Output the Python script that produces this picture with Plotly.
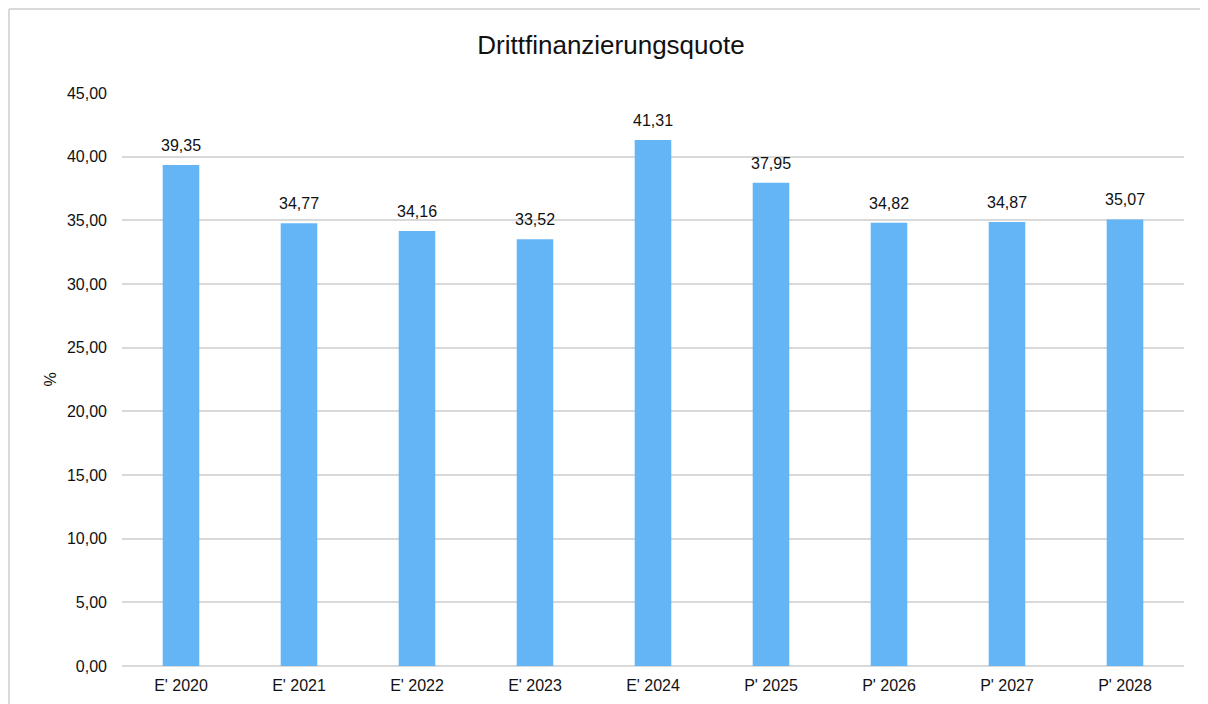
import plotly.graph_objects as go

categories = ["E' 2020", "E' 2021", "E' 2022", "E' 2023", "E' 2024",
              "P' 2025", "P' 2026", "P' 2027", "P' 2028"]
values = [39.35, 34.77, 34.16, 33.52, 41.31, 37.95, 34.82, 34.87, 35.07]
y_ticks = [0, 5, 10, 15, 20, 25, 30, 35, 40, 45]

# page has an 8px body margin
W, H = 1200, 696
L, R, T, B = 114, 24, 85, 38
pw, ph = W - L - R, H - T - B
FONT = "Liberation Sans, Arial"

fig = go.Figure(go.Bar(
    x=categories, y=values,
    marker=dict(color="#64B5F6", line=dict(width=0)),
    width=0.31,
    hoverinfo="x+y",
))

for c, v in zip(categories, values):
    fig.add_annotation(x=c, y=v, text=f"{v:.2f}".replace(".", ","),
                       showarrow=False, yanchor="bottom", yshift=9,
                       font=dict(family=FONT, size=16, color="#111111"))

def px_x(p):
    return (p - L) / pw

def px_y(p):
    return (H - B - p) / ph

border = dict(color="#d9d9d9", width=2)
fig.add_shape(type="line", xref="paper", yref="paper",
              x0=px_x(1), x1=px_x(1260), y0=px_y(1), y1=px_y(1),
              line=border, layer="below")
fig.add_shape(type="line", xref="paper", yref="paper",
              x0=px_x(1), x1=px_x(1), y0=px_y(1), y1=px_y(760),
              line=border, layer="below")

fig.update_layout(
    width=W, height=H,
    margin=dict(l=L, r=R, t=T, b=B, autoexpand=False),
    paper_bgcolor="white", plot_bgcolor="white",
    separators=",.",
    font=dict(family=FONT, size=16, color="#111111"),
    title=dict(text="Drittfinanzierungsquote", x=px_x(603), xanchor="center",
               xref="paper",
               y=1 - 37 / H, yanchor="middle",
               font=dict(family=FONT, size=26, color="#111111")),
    showlegend=False,
    xaxis=dict(showgrid=False, showline=False, ticks="", automargin=False,
               tickfont=dict(size=16), ticklabelstandoff=8),
    yaxis=dict(range=[0, 45], tickvals=y_ticks, tickformat=".2f",
               automargin=False,
               showgrid=True, gridcolor="#d9d9d9", gridwidth=1.5,
               zeroline=True, zerolinecolor="#d9d9d9", zerolinewidth=2,
               showline=False, ticks="", tickfont=dict(size=16),
               ticklabelstandoff=14,
               title=dict(text="%", standoff=6, font=dict(size=16))),
)

fig.write_html("out.html")
